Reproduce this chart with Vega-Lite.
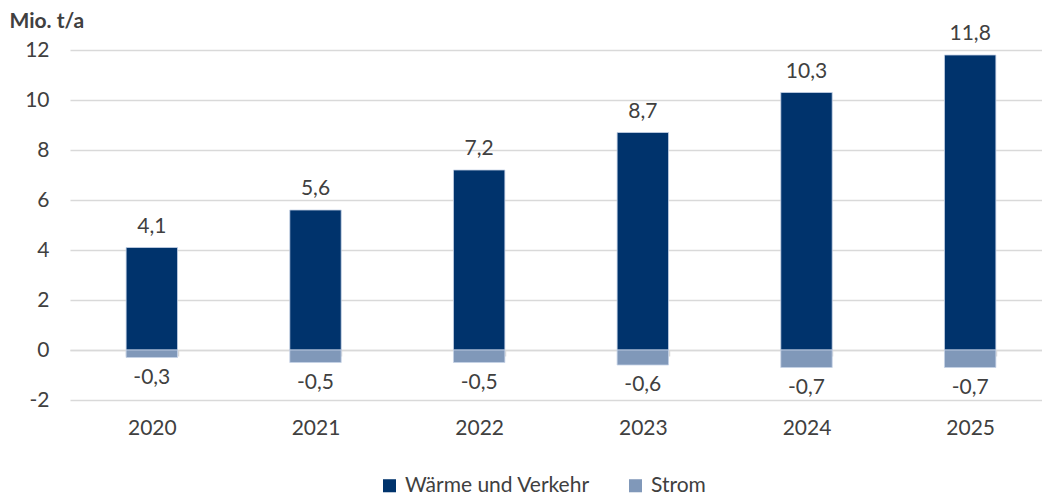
{
  "$schema": "https://vega.github.io/schema/vega-lite/v6.json",
  "autosize": {"type": "none"},
  "padding": {"left": 70, "top": 50, "right": 0, "bottom": 99},
  "width": 982,
  "height": 350,
  "background": "white",
  "config": {
    "locale": {"number": {"decimal": ",", "thousands": ".", "grouping": [3], "currency": ["", " €"], "minus": "-"}},
    "font": "Lato",
    "view": {"stroke": null},
    "axis": {"labelFont": "Lato", "labelFontSize": 21, "labelColor": "#404040", "titleFont": "Lato"}
  },
  "data": {
    "values": [
      {"year": "2020", "series": "Wärme und Verkehr", "value": 4.1},
      {"year": "2021", "series": "Wärme und Verkehr", "value": 5.6},
      {"year": "2022", "series": "Wärme und Verkehr", "value": 7.2},
      {"year": "2023", "series": "Wärme und Verkehr", "value": 8.7},
      {"year": "2024", "series": "Wärme und Verkehr", "value": 10.3},
      {"year": "2025", "series": "Wärme und Verkehr", "value": 11.8},
      {"year": "2020", "series": "Strom", "value": -0.3},
      {"year": "2021", "series": "Strom", "value": -0.5},
      {"year": "2022", "series": "Strom", "value": -0.5},
      {"year": "2023", "series": "Strom", "value": -0.6},
      {"year": "2024", "series": "Strom", "value": -0.7},
      {"year": "2025", "series": "Strom", "value": -0.7}
    ]
  },
  "encoding": {
    "x": {
      "field": "year", "type": "nominal",
      "scale": {"paddingInner": 0.686, "paddingOuter": 0.343},
      "axis": {
        "title": null, "labelAngle": 0, "offset": -50, "orient": "bottom",
        "domainColor": "#d9d9d9", "domainWidth": 1.5,
        "ticks": true, "tickBand": "extent", "tickColor": "#d9d9d9", "tickSize": 6, "tickWidth": 1.5,
        "labelPadding": 61, "zindex": 0
      }
    }
  },
  "layer": [
    {
      "mark": {"type": "bar", "stroke": "#c5d2e6", "strokeWidth": 0.8},
      "encoding": {
        "y": {
          "field": "value", "type": "quantitative", "stack": "zero",
          "scale": {"domain": [-2, 12], "nice": false},
          "axis": {
            "values": [-2, 0, 2, 4, 6, 8, 10, 12], "format": "d",
            "grid": true, "gridColor": "#d9d9d9", "gridWidth": 1.5,
            "domain": false, "ticks": false, "labelPadding": 21,
            "title": "Mio. t/a", "titleAngle": 0, "titleAlign": "left", "titleBaseline": "top",
            "titleX": -61, "titleY": -40, "titleFontSize": 21, "titleFontWeight": "bold", "titleColor": "#404040"
          }
        },
        "color": {
          "field": "series", "type": "nominal",
          "scale": {"domain": ["Wärme und Verkehr", "Strom"], "range": ["#00336c", "#8098b9"]},
          "legend": {
            "title": null, "orient": "none", "direction": "horizontal",
            "legendX": 309, "legendY": 425,
            "symbolType": "square", "symbolSize": 170, "symbolStrokeWidth": 0,
            "labelFontSize": 21, "labelColor": "#404040", "labelFont": "Lato", "labelLimit": 400,
            "columnPadding": 35, "labelOffset": 5
          }
        }
      }
    },
    {
      "transform": [{"filter": "datum.value > 0"}],
      "mark": {"type": "text", "baseline": "bottom", "dy": -11, "fontSize": 21, "color": "#404040"},
      "encoding": {
        "y": {"field": "value", "type": "quantitative", "stack": null},
        "text": {"field": "value", "type": "quantitative", "format": ".1f"}
      }
    },
    {
      "transform": [{"filter": "datum.value < 0"}],
      "mark": {"type": "text", "baseline": "top", "dy": 9, "fontSize": 21, "color": "#404040"},
      "encoding": {
        "y": {"field": "value", "type": "quantitative", "stack": null},
        "text": {"field": "value", "type": "quantitative", "format": ".1f"}
      }
    }
  ]
}
